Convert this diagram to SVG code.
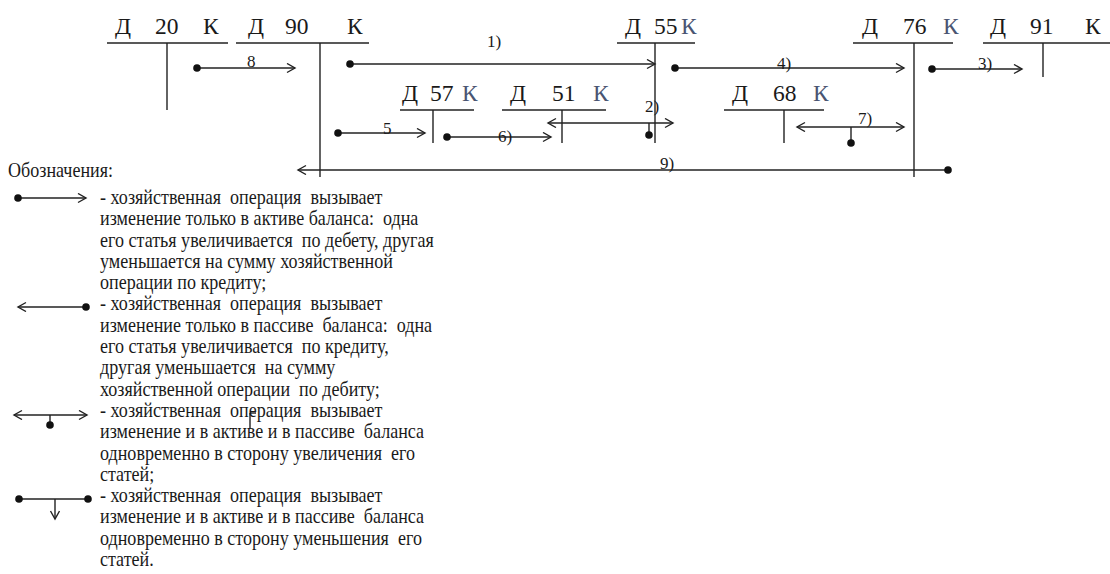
<svg xmlns="http://www.w3.org/2000/svg" width="1110" height="574" viewBox="0 0 1110 574">
  <style>
    .bg { fill: #ffffff; }
    .ln { stroke: #222; stroke-width: 1.4; fill: none; }
    .dot { fill: #111; }
    .acc { font-family: "Liberation Serif", "Times New Roman", serif; font-size: 23.5px; fill: #1a1a1a; }
    .k2 { fill: #4a5572; }
    .num { font-family: "Liberation Serif", "Times New Roman", serif; font-size: 17px; fill: #1a1a1a; }
    .lg { font-family: "Liberation Serif", "Times New Roman", serif; font-size: 21px; fill: #1a1a1a; white-space: pre; }
    .arr { stroke: #222; stroke-width: 1.4; fill: none; marker-end: url(#head); }
    .arr2 { stroke: #222; stroke-width: 1.4; fill: none; marker-start: url(#head); marker-end: url(#head); }
    .arrs { stroke: #222; stroke-width: 1.4; fill: none; marker-start: url(#head); }
  </style>
  <defs>
    <marker id="head" markerUnits="userSpaceOnUse" markerWidth="12" markerHeight="12" refX="9" refY="5" orient="auto-start-reverse">
      <path d="M1,0.5 L9,5 L1,9.5" fill="none" stroke="#222" stroke-width="1.4"/>
    </marker>
  </defs>
  <rect class="bg" x="0" y="0" width="1110" height="574"/>

  <!-- T-accounts -->
  <g id="acc20">
    <text class="acc" x="115" y="34">Д</text><text class="acc" x="155" y="34">20</text><text class="acc" x="203" y="34">К</text>
    <line class="ln" x1="107" y1="43" x2="228" y2="43"/>
    <line class="ln" x1="167" y1="43" x2="167" y2="110"/>
  </g>
  <g id="acc90">
    <text class="acc" x="248" y="34">Д</text><text class="acc" x="285" y="34">90</text><text class="acc" x="347" y="34">К</text>
    <line class="ln" x1="236" y1="43" x2="369" y2="43"/>
    <line class="ln" x1="320" y1="43" x2="320" y2="177"/>
  </g>
  <g id="acc55">
    <text class="acc" x="625" y="34">Д</text><text class="acc" x="654" y="34">55</text><text class="acc k2" x="681" y="34">К</text>
    <line class="ln" x1="617" y1="43" x2="695" y2="43"/>
    <line class="ln" x1="655" y1="43" x2="655" y2="143"/>
  </g>
  <g id="acc76">
    <text class="acc" x="862" y="34">Д</text><text class="acc" x="903" y="34">76</text><text class="acc k2" x="943" y="34">К</text>
    <line class="ln" x1="853" y1="43" x2="953" y2="43"/>
    <line class="ln" x1="914" y1="43" x2="914" y2="177"/>
  </g>
  <g id="acc91">
    <text class="acc" x="990" y="34">Д</text><text class="acc" x="1030" y="34">91</text><text class="acc" x="1085" y="34">К</text>
    <line class="ln" x1="983" y1="43" x2="1110" y2="43"/>
    <line class="ln" x1="1043" y1="43" x2="1043" y2="77"/>
  </g>
  <g id="acc57">
    <text class="acc" x="402" y="101">Д</text><text class="acc" x="430" y="101">57</text><text class="acc k2" x="462" y="101">К</text>
    <line class="ln" x1="400" y1="110" x2="474" y2="110"/>
    <line class="ln" x1="433" y1="110" x2="433" y2="143"/>
  </g>
  <g id="acc51">
    <text class="acc" x="510" y="101">Д</text><text class="acc" x="552" y="101">51</text><text class="acc k2" x="593" y="101">К</text>
    <line class="ln" x1="502" y1="110" x2="606" y2="110"/>
    <line class="ln" x1="562" y1="110" x2="562" y2="143"/>
  </g>
  <g id="acc68">
    <text class="acc" x="732" y="101">Д</text><text class="acc" x="773" y="101">68</text><text class="acc k2" x="813" y="101">К</text>
    <line class="ln" x1="724" y1="110" x2="824" y2="110"/>
    <line class="ln" x1="784" y1="110" x2="784" y2="143"/>
  </g>

  <!-- operations -->
  <g id="connectors">
    <!-- 8 -->
    <line class="arr" x1="197" y1="68" x2="295" y2="68"/><circle class="dot" cx="197" cy="68" r="3.8"/>
    <text class="num" x="247" y="67">8</text>
    <!-- 1) -->
    <line class="arr" x1="350" y1="64" x2="655" y2="64"/><circle class="dot" cx="350" cy="64" r="3.8"/>
    <text class="num" x="487" y="47">1)</text>
    <!-- 4) -->
    <line class="arr" x1="675" y1="68" x2="904" y2="68"/><circle class="dot" cx="675" cy="68" r="3.8"/>
    <text class="num" x="777" y="69">4)</text>
    <!-- 3) -->
    <line class="arr" x1="932" y1="69" x2="1022" y2="69"/><circle class="dot" cx="932" cy="69" r="3.8"/>
    <text class="num" x="978" y="69">3)</text>
    <!-- 5 -->
    <line class="arr" x1="338" y1="133" x2="425" y2="133"/><circle class="dot" cx="338" cy="133" r="3.8"/>
    <text class="num" x="383" y="134">5</text>
    <!-- 6) -->
    <line class="arr" x1="447" y1="137" x2="551" y2="137"/><circle class="dot" cx="447" cy="137" r="3.8"/>
    <text class="num" x="498" y="142">6)</text>
    <!-- 2) -->
    <line class="arr2" x1="548" y1="123" x2="673" y2="123"/>
    <line class="ln" x1="649" y1="123" x2="649" y2="135"/><circle class="dot" cx="649" cy="135" r="3.8"/>
    <text class="num" x="645" y="112">2)</text>
    <!-- 7) -->
    <line class="arr2" x1="797" y1="127" x2="904" y2="127"/>
    <line class="ln" x1="851" y1="127" x2="851" y2="143"/><circle class="dot" cx="851" cy="143" r="3.8"/>
    <text class="num" x="858" y="124">7)</text>
    <!-- 9) -->
    <line class="arrs" x1="298" y1="170" x2="948" y2="170"/><circle class="dot" cx="948" cy="170" r="3.8"/>
    <text class="num" x="660" y="169">9)</text>
  </g>

  <!-- key -->
  <g id="legend">
    <text class="lg" transform="translate(8,177) scale(0.86,1)">Обозначения:</text>

    <line class="arr" x1="18" y1="198" x2="86" y2="198"/><circle class="dot" cx="18" cy="198" r="3.8"/>
    <line class="arrs" x1="18" y1="307" x2="86" y2="307"/><circle class="dot" cx="86" cy="307" r="3.8"/>
    <line class="arr2" x1="14" y1="415" x2="87" y2="415"/>
    <line class="ln" x1="50" y1="415" x2="50" y2="425"/><circle class="dot" cx="50" cy="425" r="3.8"/>
    <line class="ln" x1="19" y1="499" x2="88" y2="499"/><circle class="dot" cx="19" cy="499" r="3.8"/><circle class="dot" cx="88" cy="499" r="3.8"/>
    <line class="arr" x1="55" y1="499" x2="55" y2="519"/>

    <line class="ln" x1="250" y1="413" x2="250" y2="429"/>
    <line class="ln" x1="250" y1="413" x2="256" y2="413"/>

    <g transform="translate(100,0) scale(0.86,1)">
      <text class="lg" x="0" y="204">- хозяйственная  операция  вызывает</text>
      <text class="lg" x="0" y="225.3">изменение только в активе баланса:  одна</text>
      <text class="lg" x="0" y="246.6">его статья увеличивается  по дебету, другая</text>
      <text class="lg" x="0" y="267.9">уменьшается на сумму хозяйственной</text>
      <text class="lg" x="0" y="289.2">операции по кредиту;</text>
      <text class="lg" x="0" y="310.5">- хозяйственная  операция  вызывает</text>
      <text class="lg" x="0" y="331.8">изменение только в пассиве  баланса:  одна</text>
      <text class="lg" x="0" y="353.1">его статья увеличивается  по кредиту,</text>
      <text class="lg" x="0" y="374.4">другая уменьшается  на сумму</text>
      <text class="lg" x="0" y="395.7">хозяйственной операции  по дебиту;</text>
      <text class="lg" x="0" y="417">- хозяйственная  операция  вызывает</text>
      <text class="lg" x="0" y="438.3">изменение и в активе и в пассиве  баланса</text>
      <text class="lg" x="0" y="459.6">одновременно в сторону увеличения  его</text>
      <text class="lg" x="0" y="480.9">статей;</text>
      <text class="lg" x="0" y="502.2">- хозяйственная  операция  вызывает</text>
      <text class="lg" x="0" y="523.5">изменение и в активе и в пассиве  баланса</text>
      <text class="lg" x="0" y="544.8">одновременно в сторону уменьшения  его</text>
      <text class="lg" x="0" y="566.1">статей.</text>
    </g>
  </g>
</svg>
